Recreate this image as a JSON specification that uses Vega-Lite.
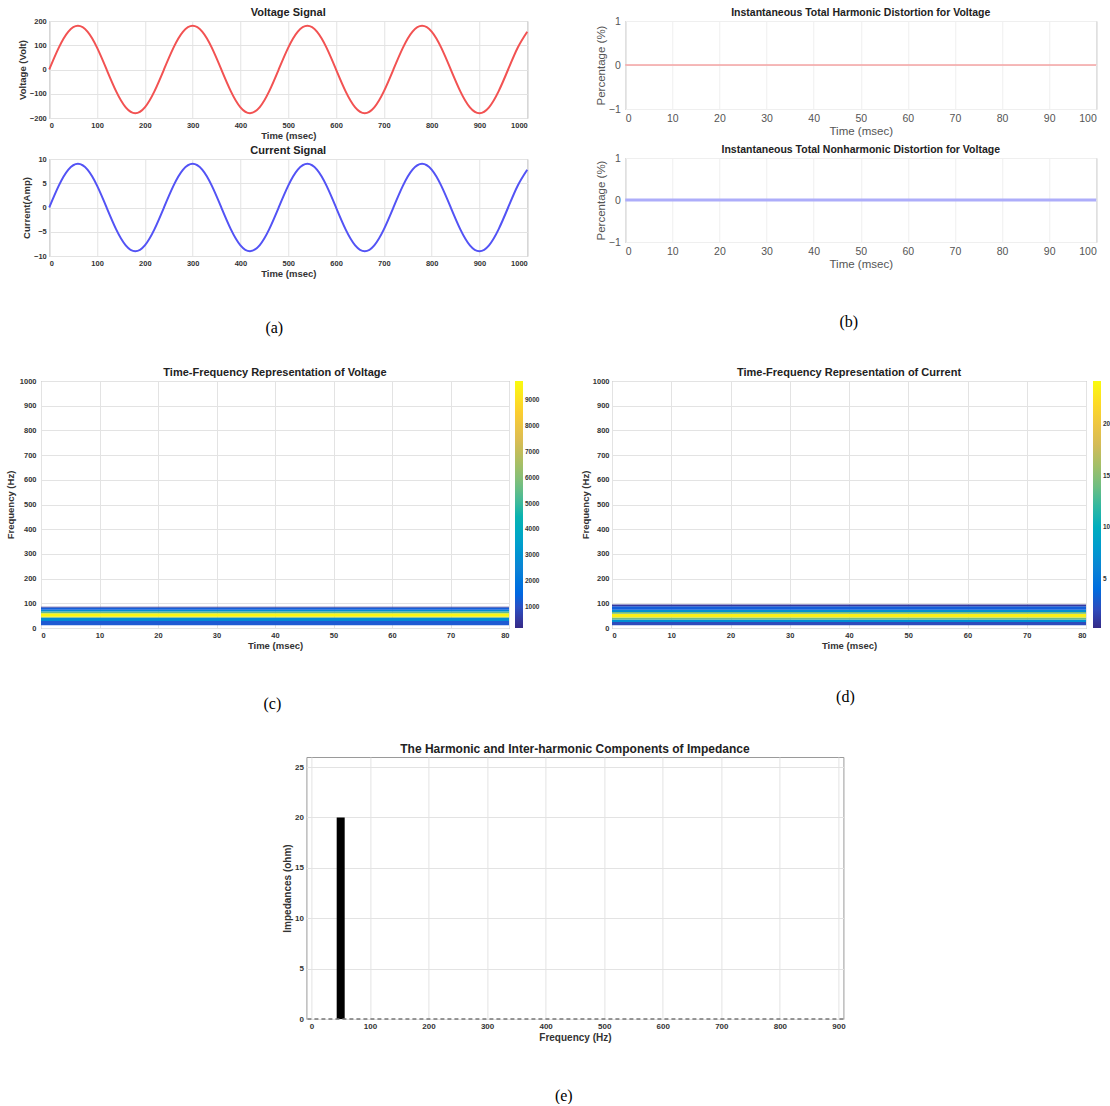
{
  "$schema": "https://vega.github.io/schema/vega-lite/v6.json",
  "background": "white",
  "padding": {"left": 4, "top": 6, "right": 0, "bottom": 0},
  "config": {
    "font": "Liberation Sans",
    "view": {"stroke": "#9a9a9a", "fill": "white"},
    "axis": {
      "labelFontSize": 7.5, "labelFontWeight": "bold", "labelColor": "#333",
      "titleFontSize": 9.5, "titleFontWeight": "bold", "titleColor": "#333",
      "gridColor": "#e3e3e3", "domain": false, "ticks": false,
      "labelPadding": 3, "titlePadding": 2, "format": "d"
    },
    "title": {"fontSize": 11, "fontWeight": "bold", "color": "#222", "offset": -1, "frame": "group"},
    "legend": {"labelFont": "Liberation Sans"}
  },
  "resolve": {"scale": {"color": "independent"}, "legend": {"color": "independent"}},
  "center": true,
  "spacing": 30,
  "vconcat": [
    {
      "spacing": 62,
      "hconcat": [
        {
          "title": {"text": "(a)", "orient": "bottom", "anchor": "middle", "frame": "bounds", "font": "Liberation Serif", "fontSize": 16, "fontWeight": "normal", "color": "black", "offset": 41},
          "spacing": 3,
          "vconcat": [
            {
              "width": 478, "height": 97,
              "title": "Voltage Signal",
              "data": {"name": "sig"},
              "mark": {"type": "line", "color": "#f25252", "strokeWidth": 2, "interpolate": "natural"},
              "encoding": {
                "x": {"field": "t", "type": "quantitative", "scale": {"domain": [0, 1000], "nice": false},
                      "axis": {"values": [0, 100, 200, 300, 400, 500, 600, 700, 800, 900, 1000], "title": "Time (msec)"}},
                "y": {"field": "v", "type": "quantitative", "scale": {"domain": [-200, 200]},
                      "axis": {"values": [-200, -100, 0, 100, 200], "title": "Voltage (Volt)"}}
              }
            },
            {
              "width": 478, "height": 97,
              "title": "Current Signal",
              "data": {"name": "sig"},
              "mark": {"type": "line", "color": "#5353f5", "strokeWidth": 2, "interpolate": "natural"},
              "encoding": {
                "x": {"field": "t", "type": "quantitative", "scale": {"domain": [0, 1000], "nice": false},
                      "axis": {"values": [0, 100, 200, 300, 400, 500, 600, 700, 800, 900, 1000], "title": "Time (msec)"}},
                "y": {"field": "i", "type": "quantitative", "scale": {"domain": [-10, 10]},
                      "axis": {"values": [-10, -5, 0, 5, 10], "title": "Current(Amp)"}}
              }
            }
          ]
        },
        {
          "title": {"text": "(b)", "orient": "bottom", "anchor": "middle", "frame": "bounds", "font": "Liberation Serif", "fontSize": 16, "fontWeight": "normal", "color": "black", "offset": 43},
          "spacing": 6,
          "vconcat": [
            {
              "width": 471, "height": 88,
              "title": {"text": "Instantaneous Total Harmonic Distortion for Voltage", "fontSize": 10.5, "offset": -2},
              "data": {"name": "dist"},
              "mark": {"type": "line", "color": "#f5a3a3", "strokeWidth": 1.5},
              "encoding": {
                "x": {"field": "t", "type": "quantitative", "scale": {"domain": [0, 100], "nice": false},
                      "axis": {"values": [0, 10, 20, 30, 40, 50, 60, 70, 80, 90, 100], "title": "Time (msec)", "labelPadding": 4,
                               "labelFontWeight": "normal", "labelFontSize": 10.5, "labelColor": "#555",
                               "titleFontWeight": "normal", "titleFontSize": 11.5, "titleColor": "#555", "gridColor": "#efefef"}},
                "y": {"field": "d", "type": "quantitative", "scale": {"domain": [-1, 1]},
                      "axis": {"values": [-1, 0, 1], "title": "Percentage (%)", "labelPadding": 5,
                               "labelFontWeight": "normal", "labelFontSize": 10.5, "labelColor": "#555",
                               "titleFontWeight": "normal", "titleFontSize": 11.5, "titleColor": "#555", "gridColor": "#efefef"}}
              }
            },
            {
              "width": 471, "height": 84,
              "title": {"text": "Instantaneous Total Nonharmonic Distortion for Voltage", "fontSize": 10.5, "offset": -2},
              "data": {"name": "dist"},
              "mark": {"type": "line", "color": "#adadfa", "strokeWidth": 3},
              "encoding": {
                "x": {"field": "t", "type": "quantitative", "scale": {"domain": [0, 100], "nice": false},
                      "axis": {"values": [0, 10, 20, 30, 40, 50, 60, 70, 80, 90, 100], "title": "Time (msec)", "labelPadding": 4,
                               "labelFontWeight": "normal", "labelFontSize": 10.5, "labelColor": "#555",
                               "titleFontWeight": "normal", "titleFontSize": 11.5, "titleColor": "#555", "gridColor": "#efefef"}},
                "y": {"field": "d", "type": "quantitative", "scale": {"domain": [-1, 1]},
                      "axis": {"values": [-1, 0, 1], "title": "Percentage (%)", "labelPadding": 5,
                               "labelFontWeight": "normal", "labelFontSize": 10.5, "labelColor": "#555",
                               "titleFontWeight": "normal", "titleFontSize": 11.5, "titleColor": "#555", "gridColor": "#efefef"}}
              }
            }
          ]
        }
      ]
    },
    {
      "spacing": 39,
      "resolve": {"scale": {"color": "independent"}, "legend": {"color": "independent"}},
      "hconcat": [
        {
          "title": {"text": "(c)", "orient": "bottom", "anchor": "middle", "frame": "bounds", "font": "Liberation Serif", "fontSize": 16, "fontWeight": "normal", "color": "black", "offset": 45},
          "vconcat": [
            {
              "width": 468, "height": 247,
              "title": "Time-Frequency Representation of Voltage",
              "data": {"name": "tfv"},
              "mark": {"type": "rect"},
              "encoding": {
                "x": {"field": "t0", "type": "quantitative", "scale": {"domain": [0, 80], "nice": false},
                      "axis": {"values": [0, 10, 20, 30, 40, 50, 60, 70, 80], "title": "Time (msec)"}},
                "x2": {"field": "t1"},
                "y": {"field": "f0", "type": "quantitative", "scale": {"domain": [0, 1000]},
                      "axis": {"values": [0, 100, 200, 300, 400, 500, 600, 700, 800, 900, 1000], "title": "Frequency (Hz)", "labelPadding": 5, "titlePadding": 4}},
                "y2": {"field": "f1"},
                "color": {"field": "p", "type": "quantitative",
                          "scale": {"domain": [185, 9740], "range": ["#352a87", "#0363e1", "#1485d4", "#06a7c6", "#38b99e", "#92bf73", "#d9ba56", "#fcce2e", "#f9fb0e"]},
                          "legend": {"values": [1000, 2000, 3000, 4000, 5000, 6000, 7000, 8000, 9000], "title": null, "format": "d",
                                     "gradientLength": 247, "gradientThickness": 8, "labelFontSize": 6.5, "labelFontWeight": "bold",
                                     "labelColor": "#333", "offset": 5, "labelOverlap": false, "gradientStrokeWidth": 0}}
              }
            }
          ]
        },
        {
          "title": {"text": "(d)", "orient": "bottom", "anchor": "middle", "frame": "bounds", "font": "Liberation Serif", "fontSize": 16, "fontWeight": "normal", "color": "black", "offset": 38},
          "vconcat": [
            {
              "width": 474, "height": 247,
              "title": "Time-Frequency Representation of Current",
              "data": {"name": "tfi"},
              "mark": {"type": "rect"},
              "encoding": {
                "x": {"field": "t0", "type": "quantitative", "scale": {"domain": [0, 80], "nice": false},
                      "axis": {"values": [0, 10, 20, 30, 40, 50, 60, 70, 80], "title": "Time (msec)"}},
                "x2": {"field": "t1"},
                "y": {"field": "f0", "type": "quantitative", "scale": {"domain": [0, 1000]},
                      "axis": {"values": [0, 100, 200, 300, 400, 500, 600, 700, 800, 900, 1000], "title": "Frequency (Hz)"}},
                "y2": {"field": "f1"},
                "color": {"field": "p", "type": "quantitative",
                          "scale": {"domain": [0.2, 24.2], "range": ["#352a87", "#0363e1", "#1485d4", "#06a7c6", "#38b99e", "#92bf73", "#d9ba56", "#fcce2e", "#f9fb0e"]},
                          "legend": {"values": [5, 10, 15, 20], "title": null, "format": "d",
                                     "gradientLength": 247, "gradientThickness": 8, "labelFontSize": 6.5, "labelFontWeight": "bold",
                                     "labelColor": "#333", "offset": 6, "labelOverlap": false, "gradientStrokeWidth": 0}}
              }
            }
          ]
        }
      ]
    },
    {
      "title": {"text": "(e)", "orient": "bottom", "anchor": "middle", "frame": "bounds", "font": "Liberation Serif", "fontSize": 16, "fontWeight": "normal", "color": "black", "offset": 45},
      "vconcat": [
        {
          "width": 537, "height": 262,
          "title": {"text": "The Harmonic and Inter-harmonic Components of Impedance", "fontSize": 12, "offset": 1},
          "data": {"name": "imp"},
          "layer": [
            {
              "mark": {"type": "bar", "color": "black", "size": 8},
              "encoding": {
                "x": {"field": "f", "type": "quantitative", "scale": {"domain": [0, 900], "nice": false},
                      "axis": {"values": [0, 100, 200, 300, 400, 500, 600, 700, 800, 900], "title": "Frequency (Hz)", "labelFontSize": 8, "titleFontSize": 10}},
                "y": {"field": "z", "type": "quantitative", "scale": {"domain": [0, 25]},
                      "axis": {"values": [0, 5, 10, 15, 20, 25], "title": "Impedances (ohm)", "labelFontSize": 8, "titleFontSize": 10}}
              }
            },
            {
              "mark": {"type": "rule", "color": "#777", "strokeDash": [4, 3], "strokeWidth": 1.5},
              "encoding": {"y": {"datum": 0}}
            }
          ]
        }
      ]
    }
  ],
  "datasets": {
    "sig": [
      {"t": 0, "v": 0, "i": 0}, {"t": 20, "v": 90, "i": 4.5}, {"t": 40, "v": 155.9, "i": 7.79}, {"t": 60, "v": 180, "i": 9},
      {"t": 80, "v": 155.9, "i": 7.79}, {"t": 100, "v": 90, "i": 4.5}, {"t": 120, "v": 0, "i": 0}, {"t": 140, "v": -90, "i": -4.5},
      {"t": 160, "v": -155.9, "i": -7.79}, {"t": 180, "v": -180, "i": -9}, {"t": 200, "v": -155.9, "i": -7.79}, {"t": 220, "v": -90, "i": -4.5},
      {"t": 240, "v": 0, "i": 0}, {"t": 260, "v": 90, "i": 4.5}, {"t": 280, "v": 155.9, "i": 7.79}, {"t": 300, "v": 180, "i": 9},
      {"t": 320, "v": 155.9, "i": 7.79}, {"t": 340, "v": 90, "i": 4.5}, {"t": 360, "v": 0, "i": 0}, {"t": 380, "v": -90, "i": -4.5},
      {"t": 400, "v": -155.9, "i": -7.79}, {"t": 420, "v": -180, "i": -9}, {"t": 440, "v": -155.9, "i": -7.79}, {"t": 460, "v": -90, "i": -4.5},
      {"t": 480, "v": 0, "i": 0}, {"t": 500, "v": 90, "i": 4.5}, {"t": 520, "v": 155.9, "i": 7.79}, {"t": 540, "v": 180, "i": 9},
      {"t": 560, "v": 155.9, "i": 7.79}, {"t": 580, "v": 90, "i": 4.5}, {"t": 600, "v": 0, "i": 0}, {"t": 620, "v": -90, "i": -4.5},
      {"t": 640, "v": -155.9, "i": -7.79}, {"t": 660, "v": -180, "i": -9}, {"t": 680, "v": -155.9, "i": -7.79}, {"t": 700, "v": -90, "i": -4.5},
      {"t": 720, "v": 0, "i": 0}, {"t": 740, "v": 90, "i": 4.5}, {"t": 760, "v": 155.9, "i": 7.79}, {"t": 780, "v": 180, "i": 9},
      {"t": 800, "v": 155.9, "i": 7.79}, {"t": 820, "v": 90, "i": 4.5}, {"t": 840, "v": 0, "i": 0}, {"t": 860, "v": -90, "i": -4.5},
      {"t": 880, "v": -155.9, "i": -7.79}, {"t": 900, "v": -180, "i": -9}, {"t": 920, "v": -155.9, "i": -7.79}, {"t": 940, "v": -90, "i": -4.5},
      {"t": 960, "v": 0, "i": 0}, {"t": 980, "v": 90, "i": 4.5}, {"t": 1000, "v": 155.9, "i": 7.79}
    ],
    "dist": [{"t": 0, "d": 0}, {"t": 100, "d": 0}],
    "tfv": [
      {"t0": 0, "t1": 80, "f0": 11, "f1": 28, "p": 1200},
      {"t0": 0, "t1": 80, "f0": 28, "f1": 42, "p": 2800},
      {"t0": 0, "t1": 80, "f0": 42, "f1": 46, "p": 6000},
      {"t0": 0, "t1": 80, "f0": 46, "f1": 60, "p": 9600},
      {"t0": 0, "t1": 80, "f0": 60, "f1": 67, "p": 5500},
      {"t0": 0, "t1": 80, "f0": 67, "f1": 74, "p": 2800},
      {"t0": 0, "t1": 80, "f0": 74, "f1": 83, "p": 1300},
      {"t0": 0, "t1": 80, "f0": 83, "f1": 86, "p": 400}
    ],
    "tfi": [
      {"t0": 0, "t1": 80, "f0": 11, "f1": 24, "p": 2},
      {"t0": 0, "t1": 80, "f0": 24, "f1": 34, "p": 7},
      {"t0": 0, "t1": 80, "f0": 34, "f1": 43, "p": 14},
      {"t0": 0, "t1": 80, "f0": 43, "f1": 58, "p": 23.5},
      {"t0": 0, "t1": 80, "f0": 58, "f1": 65, "p": 14},
      {"t0": 0, "t1": 80, "f0": 65, "f1": 74, "p": 7},
      {"t0": 0, "t1": 80, "f0": 74, "f1": 88, "p": 3},
      {"t0": 0, "t1": 80, "f0": 88, "f1": 95, "p": 1}
    ],
    "imp": [{"f": 50, "z": 20}]
  }
}
